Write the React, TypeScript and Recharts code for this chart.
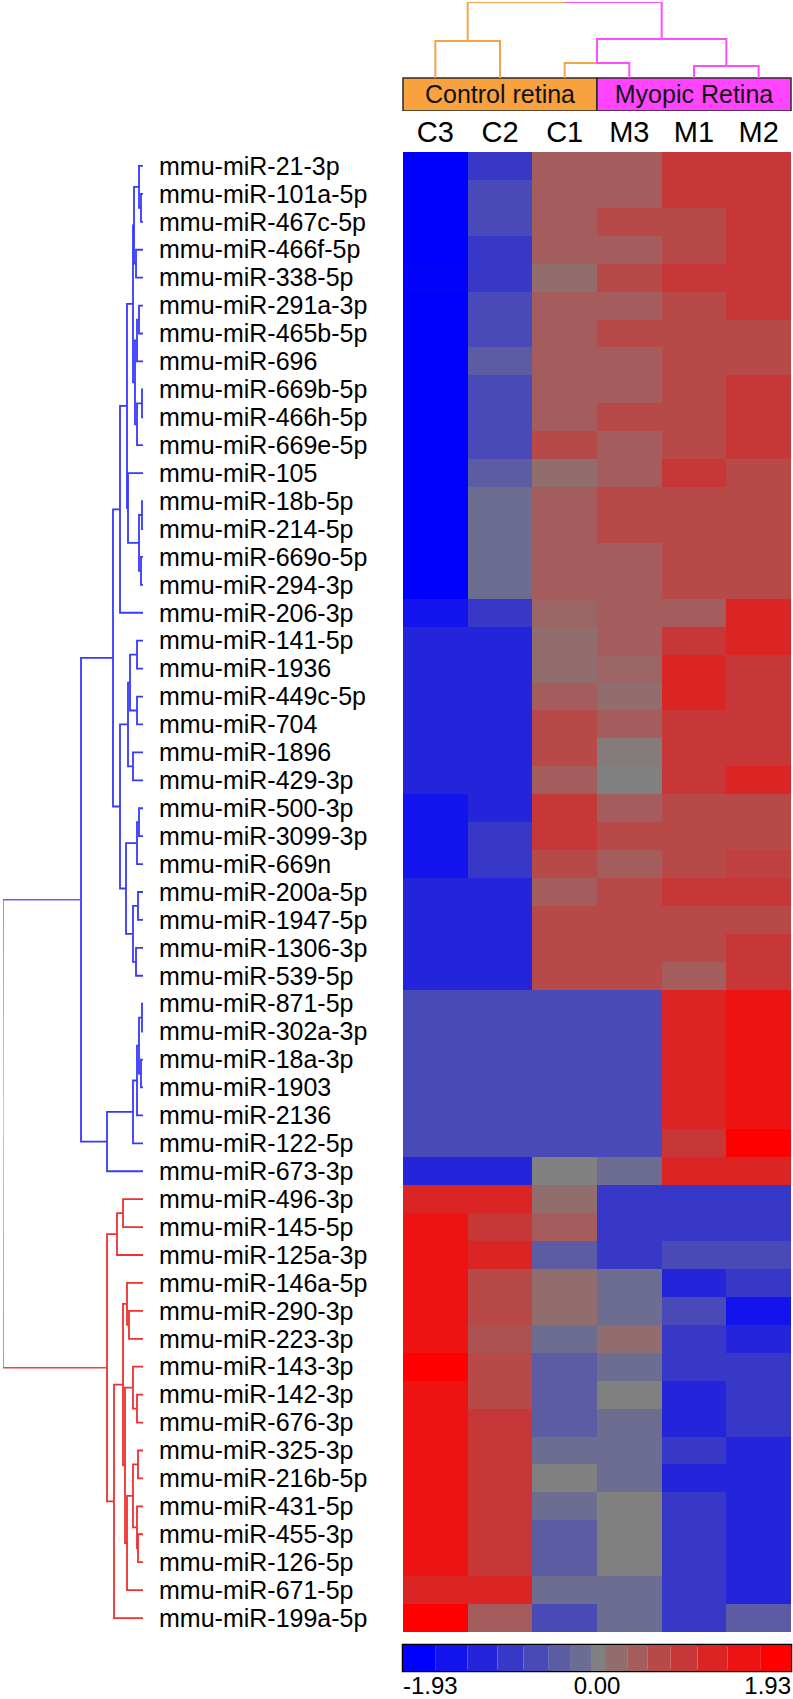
import React from 'react';
import { BarChart, Bar, Cell, XAxis, YAxis, LineChart, Line, ReferenceArea } from 'recharts';

const FONT = '"Liberation Sans", Arial, Helvetica, sans-serif';

const ROW_LABELS = [
  'mmu-miR-21-3p', 'mmu-miR-101a-5p', 'mmu-miR-467c-5p', 'mmu-miR-466f-5p', 'mmu-miR-338-5p',
  'mmu-miR-291a-3p', 'mmu-miR-465b-5p', 'mmu-miR-696', 'mmu-miR-669b-5p', 'mmu-miR-466h-5p',
  'mmu-miR-669e-5p', 'mmu-miR-105', 'mmu-miR-18b-5p', 'mmu-miR-214-5p', 'mmu-miR-669o-5p',
  'mmu-miR-294-3p', 'mmu-miR-206-3p', 'mmu-miR-141-5p', 'mmu-miR-1936', 'mmu-miR-449c-5p',
  'mmu-miR-704', 'mmu-miR-1896', 'mmu-miR-429-3p', 'mmu-miR-500-3p', 'mmu-miR-3099-3p',
  'mmu-miR-669n', 'mmu-miR-200a-5p', 'mmu-miR-1947-5p', 'mmu-miR-1306-3p', 'mmu-miR-539-5p',
  'mmu-miR-871-5p', 'mmu-miR-302a-3p', 'mmu-miR-18a-3p', 'mmu-miR-1903', 'mmu-miR-2136',
  'mmu-miR-122-5p', 'mmu-miR-673-3p', 'mmu-miR-496-3p', 'mmu-miR-145-5p', 'mmu-miR-125a-3p',
  'mmu-miR-146a-5p', 'mmu-miR-290-3p', 'mmu-miR-223-3p', 'mmu-miR-143-3p', 'mmu-miR-142-3p',
  'mmu-miR-676-3p', 'mmu-miR-325-3p', 'mmu-miR-216b-5p', 'mmu-miR-431-5p', 'mmu-miR-455-3p',
  'mmu-miR-126-5p', 'mmu-miR-671-5p', 'mmu-miR-199a-5p',
];

const SAMPLES = ['C3', 'C2', 'C1', 'M3', 'M1', 'M2'];

// z-scores, one list per sample (rows in label order)
const C3 = [
  -1.93, -1.93, -1.93, -1.93, -1.88, -1.93, -1.93, -1.93, -1.93, -1.93,
  -1.93, -1.93, -1.93, -1.93, -1.93, -1.93, -1.65, -1.38, -1.38, -1.38,
  -1.38, -1.38, -1.38, -1.65, -1.65, -1.65, -1.38, -1.38, -1.38, -1.38,
  -0.83, -0.83, -0.83, -0.83, -0.83, -0.83, -1.38, 1.38, 1.65, 1.65,
  1.65, 1.65, 1.65, 1.93, 1.65, 1.65, 1.65, 1.65, 1.65, 1.65,
  1.65, 1.38, 1.93,
];
const C2 = [
  -1.10, -0.83, -0.83, -1.10, -1.10, -0.83, -0.83, -0.55, -0.83, -0.83,
  -0.83, -0.55, -0.28, -0.28, -0.28, -0.28, -1.10, -1.38, -1.38, -1.38,
  -1.38, -1.38, -1.38, -1.38, -1.10, -1.10, -1.38, -1.38, -1.38, -1.38,
  -0.83, -0.83, -0.83, -0.83, -0.83, -0.83, -1.38, 1.38, 1.10, 1.38,
  0.83, 0.83, 0.69, 0.83, 0.83, 1.10, 1.10, 1.10, 1.10, 1.10,
  1.10, 1.38, 0.55,
];
const C1 = [
  0.55, 0.55, 0.55, 0.55, 0.28, 0.55, 0.55, 0.55, 0.55, 0.55,
  0.83, 0.28, 0.55, 0.55, 0.55, 0.55, 0.41, 0.28, 0.28, 0.55,
  0.83, 0.83, 0.55, 1.10, 1.10, 0.83, 0.55, 0.83, 0.83, 0.83,
  -0.83, -0.83, -0.83, -0.83, -0.83, -0.83, 0, 0.28, 0.55, -0.55,
  0.28, 0.28, -0.28, -0.55, -0.55, -0.55, -0.28, 0, -0.28, -0.55,
  -0.55, -0.28, -0.83,
];
const M3 = [
  0.55, 0.55, 0.83, 0.55, 0.83, 0.55, 0.83, 0.55, 0.55, 0.83,
  0.55, 0.55, 0.83, 0.83, 0.55, 0.55, 0.55, 0.55, 0.41, 0.28,
  0.55, 0.08, 0, 0.55, 0.83, 0.55, 0.83, 0.83, 0.83, 0.83,
  -0.83, -0.83, -0.83, -0.83, -0.83, -0.83, -0.28, -1.10, -1.10, -1.10,
  -0.28, -0.28, 0.28, -0.28, 0, -0.28, -0.28, -0.28, 0, 0,
  0, -0.28, -0.28,
];
const M1 = [
  1.10, 1.10, 0.83, 0.83, 1.10, 0.83, 0.83, 0.83, 0.83, 0.83,
  0.83, 1.10, 0.83, 0.83, 0.83, 0.83, 0.55, 1.10, 1.38, 1.38,
  1.10, 1.10, 1.10, 0.83, 0.83, 0.83, 1.10, 0.83, 0.83, 0.55,
  1.38, 1.38, 1.38, 1.38, 1.38, 1.10, 1.38, -1.10, -1.10, -0.83,
  -1.38, -0.83, -1.10, -1.10, -1.38, -1.38, -1.10, -1.38, -1.10, -1.10,
  -1.10, -1.10, -1.10,
];
const M2 = [
  1.10, 1.10, 1.10, 1.10, 1.10, 1.10, 0.83, 0.83, 1.10, 1.10,
  1.10, 0.83, 0.83, 0.83, 0.83, 0.83, 1.38, 1.38, 1.10, 1.10,
  1.10, 1.10, 1.38, 0.83, 0.83, 0.96, 1.10, 0.83, 1.10, 1.10,
  1.65, 1.65, 1.65, 1.65, 1.65, 1.93, 1.38, -1.10, -1.10, -0.83,
  -1.10, -1.65, -1.38, -1.10, -1.10, -1.10, -1.38, -1.38, -1.38, -1.38,
  -1.38, -1.38, -0.55,
];

const COLUMNS = [C3, C2, C1, M3, M1, M2];

// colour key: 15 steps and the value boundaries between them
const COLOR_LEVELS = [-1.93, -1.65, -1.38, -1.10, -0.83, -0.55, -0.28, 0, 0.28, 0.55, 0.83, 1.10, 1.38, 1.65, 1.93];
const COLOR_BREAKS = [-1.93, -1.61, -1.29, -0.99, -0.73, -0.48, -0.26, -0.06, 0.08, 0.30, 0.50, 0.73, 1.00, 1.30, 1.63, 1.93];
const SCALE_TICKS = [-1.93, 0, 1.93];

const GROUPS = [
  { name: 'Control retina', from: 0, to: 3, color: '#f8a13f' },
  { name: 'Myopic Retina', from: 3, to: 6, color: '#ff44ff' },
];

type Node = number | { h: number; a: Node; b: Node };
const n = (h: number, a: Node, b: Node): Node => ({ h, a, b });

// row dendrogram (leaf = row index, h = merge distance)
const ROW_TREE: Node = n(14.0,
  n(6.2,
    n(3.0,
      n(2.3,
        n(1.6,
          n(1.0,
            n(0.9, n(0.4, 0, n(0.2, 1, 2)), n(0.7, 3, 4)),
            n(0.8, n(0.6, n(0.4, 5, 6), 7), n(0.6, n(0.1, 8, 9), 10)),
          ),
          n(1.5, 11, n(0.4, n(0.1, 12, 13), n(0.2, 14, 15))),
        ),
        16,
      ),
      n(2.3,
        n(1.5, n(1.3, n(0.6, 17, 18), n(0.6, 19, 20)), n(1.0, 21, 22)),
        n(1.7, n(0.6, n(0.4, 23, 24), 25), n(1.0, n(0.5, 26, 27), n(0.7, 28, 29))),
      ),
    ),
    n(3.6, n(1.0, n(0.6, n(0.4, n(0.1, 30, 31), n(0.2, 32, 33)), 34), 35), 36),
  ),
  n(3.6,
    n(2.6, n(2.0, 37, 38), 39),
    n(2.9,
      n(2.0,
        n(1.6, 40, n(1.4, 41, 42)),
        n(1.8,
          n(1.0, 43, n(0.6, 44, 45)),
          n(1.6, n(1.0, n(0.5, 46, 47), n(0.6, 48, n(0.5, 49, 50))), 51),
        ),
      ),
      52,
    ),
  ),
);

// sample dendrogram (leaf = column index)
const COL_TREE: Node = n(7.6, n(3.7, 0, 1), n(3.9, n(1.5, 2, 3), n(1.2, 4, 5)));

const BLUE = '#3838ff';
const RED = '#ee3030';
const ORANGE = '#f5a24c';
const PINK = '#ff4cff';

function heatColor(v: number) {
  const t = Math.min(1, Math.abs(v) / 1.93);
  const g = Math.round(128 * (1 - t));
  const hi = Math.round(128 + 127 * t);
  return v >= 0 ? `rgb(${hi},${g},${g})` : `rgb(${g},${g},${hi})`;
}

const pos = (node: Node): number =>
  typeof node === 'number' ? node + 0.5 : (pos(node.a) + pos(node.b)) / 2;
const hgt = (node: Node): number => (typeof node === 'number' ? 0 : node.h);

interface Link {
  pts: { x: number; y: number }[];
  color: string;
  width: number;
}

function rowLinks(node: Node, out: Link[]): string {
  if (typeof node === 'number') return node < 37 ? BLUE : RED;
  const ca = rowLinks(node.a, out);
  const cb = rowLinks(node.b, out);
  const same = ca === cb;
  out.push({
    pts: [
      { x: hgt(node.a), y: pos(node.a) },
      { x: node.h, y: pos(node.a) },
      { x: node.h, y: pos(node.b) },
      { x: hgt(node.b), y: pos(node.b) },
    ],
    color: same ? ca : 'url(#rootGrad)',
    width: same ? 1.8 : 1.4,
  });
  return same ? ca : 'mixed';
}

function colLinks(node: Node, out: Link[]): string {
  if (typeof node === 'number') return node < 3 ? ORANGE : PINK;
  const ca = colLinks(node.a, out);
  const cb = colLinks(node.b, out);
  const mid = (pos(node.a) + pos(node.b)) / 2;
  out.push({
    pts: [
      { x: pos(node.a), y: hgt(node.a) },
      { x: pos(node.a), y: node.h },
      { x: mid, y: node.h },
    ],
    color: ca,
    width: 2,
  });
  out.push({
    pts: [
      { x: mid, y: node.h },
      { x: pos(node.b), y: node.h },
      { x: pos(node.b), y: hgt(node.b) },
    ],
    color: cb,
    width: 2,
  });
  return ca === cb ? ca : PINK;
}

const rowLinkList: Link[] = [];
rowLinks(ROW_TREE, rowLinkList);
const colLinkList: Link[] = [];
colLinks(COL_TREE, colLinkList);

const heatData = SAMPLES.map((s) => {
  const o: Record<string, number | string> = { col: s };
  ROW_LABELS.forEach((_, i) => (o[`r${i}`] = 1));
  return o;
});

const scaleRow: Record<string, number | string> = { name: 'scale' };
COLOR_LEVELS.forEach((_, i) => (scaleRow[`s${i}`] = COLOR_BREAKS[i + 1] - COLOR_BREAKS[i]));

export default function App() {
  return (
    <div style={{ position: 'absolute', left: 0, top: 0, width: 793, height: 1699, background: '#fff', fontFamily: FONT }}>
      {/* sample dendrogram + group bar */}
      <div style={{ position: 'absolute', left: 402, top: 0 }}>
        <LineChart width={390} height={111} margin={{ top: 2, right: 1, bottom: 0, left: 1 }}>
          <XAxis type="number" dataKey="x" domain={[0, 6]} hide allowDataOverflow />
          <YAxis type="number" dataKey="y" domain={[-3.3, 7.6]} hide allowDataOverflow />
          {GROUPS.map((g) => (
            <ReferenceArea
              key={g.name}
              x1={g.from}
              x2={g.to}
              y1={-3.3}
              y2={0}
              fill={g.color}
              fillOpacity={1}
              stroke="#2a2a2a"
              strokeWidth={1.5}
              ifOverflow="visible"
              label={{ value: g.name, position: 'center', fontSize: 25, fill: '#111', fontFamily: FONT }}
            />
          ))}
          {colLinkList.map((l, i) => (
            <Line
              key={i}
              data={l.pts}
              dataKey="y"
              type="linear"
              stroke={l.color}
              strokeWidth={l.width}
              dot={false}
              activeDot={false}
              isAnimationActive={false}
            />
          ))}
        </LineChart>
      </div>

      {/* row dendrogram */}
      <div style={{ position: 'absolute', left: 0, top: 152 }}>
        <LineChart width={146} height={1480} margin={{ top: 0, right: 3, bottom: 0, left: 3 }}>
          <defs>
            <linearGradient id="rootGrad" x1="0" y1="0" x2="0" y2="1">
              <stop offset="0%" stopColor="#6060ff" />
              <stop offset="45%" stopColor="#c6a2e6" />
              <stop offset="100%" stopColor="#ee4444" />
            </linearGradient>
          </defs>
          <XAxis type="number" dataKey="x" domain={[0, 14]} reversed hide allowDataOverflow />
          <YAxis type="number" dataKey="y" domain={[0, 53]} reversed hide allowDataOverflow />
          {rowLinkList.map((l, i) => (
            <Line
              key={i}
              data={l.pts}
              dataKey="y"
              type="linear"
              stroke={l.color}
              strokeWidth={l.width}
              dot={false}
              activeDot={false}
              isAnimationActive={false}
            />
          ))}
        </LineChart>
      </div>

      {/* heatmap with row and column labels */}
      <div style={{ position: 'absolute', left: 158, top: 112 }}>
        <BarChart
          width={633}
          height={1520}
          data={heatData}
          margin={{ top: 0, right: 0, bottom: 0, left: 0 }}
          barCategoryGap={0}
          barGap={0}
        >
          <XAxis
            dataKey="col"
            orientation="top"
            height={40}
            axisLine={false}
            tickLine={false}
            interval={0}
            tick={(p: any) => (
              <text x={p.x} y={30} textAnchor="middle" fontSize={29} fill="#000" fontFamily={FONT}>
                {p.payload.value}
              </text>
            )}
          />
          <YAxis
            type="number"
            domain={[0, 53]}
            reversed
            width={245}
            ticks={ROW_LABELS.map((_, i) => i + 0.5)}
            interval={0}
            axisLine={false}
            tickLine={false}
            tick={(p: any) => (
              <text x={1} y={p.y} dy="0.35em" textAnchor="start" fontSize={25} fill="#000" fontFamily={FONT}>
                {ROW_LABELS[Math.floor(p.payload.value)]}
              </text>
            )}
          />
          {ROW_LABELS.map((_, ri) => (
            <Bar key={ri} dataKey={`r${ri}`} stackId="h" isAnimationActive={false} shapeRendering="crispEdges">
              {COLUMNS.map((col, ci) => (
                <Cell key={ci} fill={heatColor(col[ri])} />
              ))}
            </Bar>
          ))}
        </BarChart>
      </div>

      {/* colour key */}
      <div style={{ position: 'absolute', left: 401, top: 1643 }}>
        <BarChart
          width={392}
          height={56}
          layout="vertical"
          data={[scaleRow]}
          margin={{ top: 2, right: 2, bottom: 0, left: 2 }}
          barCategoryGap={0}
        >
          <XAxis
            type="number"
            domain={[0, 3.86]}
            ticks={SCALE_TICKS.map((t) => t + 1.93)}
            height={28}
            axisLine={false}
            tickLine={false}
            interval={0}
            tick={(p: any) => {
              const v = p.payload.value - 1.93;
              const anchor = v < -1 ? 'start' : v > 1 ? 'end' : 'middle';
              return (
                <text x={p.x} y={51} textAnchor={anchor} fontSize={24} fill="#000" fontFamily={FONT}>
                  {v.toFixed(2)}
                </text>
              );
            }}
          />
          <YAxis type="category" dataKey="name" hide />
          {COLOR_LEVELS.map((lv, i) => (
            <Bar key={i} dataKey={`s${i}`} stackId="k" fill={heatColor(lv)} isAnimationActive={false} />
          ))}
          <ReferenceArea
            x1={0}
            x2={3.86}
            y1="scale"
            y2="scale"
            fill="none"
            fillOpacity={0}
            stroke="#000"
            strokeWidth={2.5}
            ifOverflow="visible"
          />
        </BarChart>
      </div>
    </div>
  );
}
